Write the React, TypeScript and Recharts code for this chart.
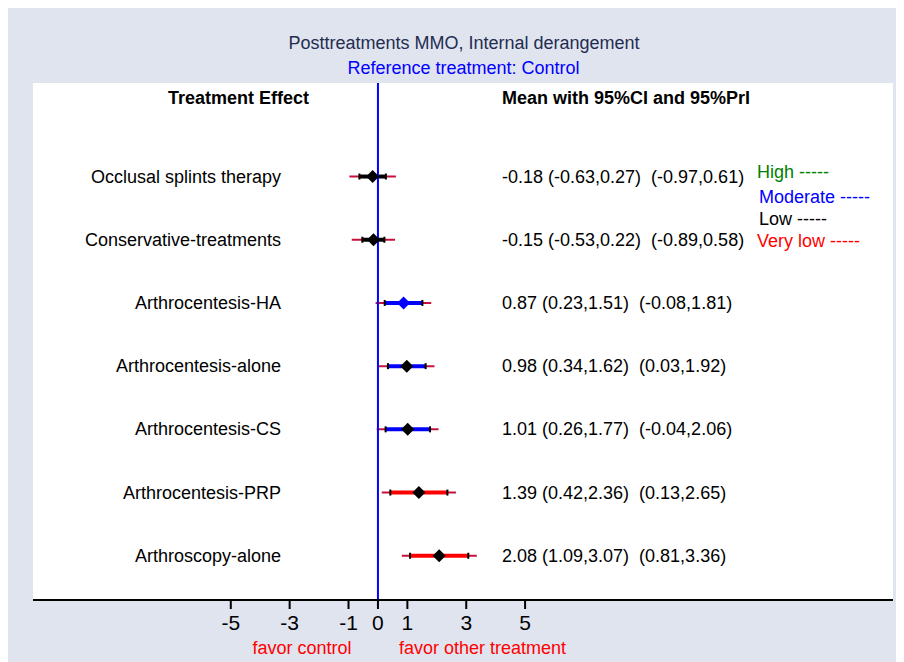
import React from 'react';
import { CartesianGrid, ErrorBar, ReferenceLine, Scatter, ScatterChart, XAxis, YAxis } from 'recharts';

const treatments = [
  'Occlusal splints therapy',
  'Conservative-treatments',
  'Arthrocentesis-HA',
  'Arthrocentesis-alone',
  'Arthrocentesis-CS',
  'Arthrocentesis-PRP',
  'Arthroscopy-alone',
];
const means = [-0.18, -0.15, 0.87, 0.98, 1.01, 1.39, 2.08];
const ciLow = [-0.63, -0.53, 0.23, 0.34, 0.26, 0.42, 1.09];
const ciHigh = [0.27, 0.22, 1.51, 1.62, 1.77, 2.36, 3.07];
const priLow = [-0.97, -0.89, -0.08, 0.03, -0.04, 0.13, 0.81];
const priHigh = [0.61, 0.58, 1.81, 1.92, 2.06, 2.65, 3.36];
const certainty = ['Low', 'Low', 'Moderate', 'Moderate', 'Moderate', 'Very low', 'Very low'];
const xTicks = [-5, -3, -1, 0, 1, 3, 5];
const legendItems = ['High', 'Moderate', 'Low', 'Very low'];

const W = 896;
const H = 654;
const FONT = '"Liberation Sans", Arial, Helvetica, sans-serif';
const FS = 18;
const BG = '#e0e4ef';
const PRI_COLOR = '#c8103c';
const CERTAINTY_COLOR: Record<string, string> = {
  High: '#008000',
  Moderate: '#0000ff',
  Low: '#000000',
  'Very low': '#ff0000',
};
// only the HA estimate gets a coloured diamond
const DIAMOND_COLOR = ['#000', '#000', '#0000ff', '#000', '#000', '#000', '#000'];
const NAME_X = 273;
const STATS_X = 494;
const LEGEND_Y = [164, 189, 211, 233];

const f = (v: number) => v.toFixed(2);

const rows = treatments.map((name, i) => ({
  name,
  x: means[i],
  y: i + 1,
  ci: [means[i] - ciLow[i], ciHigh[i] - means[i]],
  pri: [means[i] - priLow[i], priHigh[i] - means[i]],
  stats: `${f(means[i])} (${f(ciLow[i])},${f(ciHigh[i])})  (${f(priLow[i])},${f(priHigh[i])})`,
  ciColor: CERTAINTY_COLOR[certainty[i]],
  diamond: DIAMOND_COLOR[i],
}));

const caps = rows.flatMap((r, i) => [
  { x: ciLow[i], y: r.y },
  { x: ciHigh[i], y: r.y },
]);

const RowMark = (props: any) => {
  const { cx, cy, payload } = props;
  const s = 6.5;
  return (
    <g>
      <text x={NAME_X} y={cy} textAnchor="end" dominantBaseline="central" fontSize={FS} fontFamily={FONT} fill="#000">
        {payload.name}
      </text>
      <text
        x={STATS_X}
        y={cy}
        dominantBaseline="central"
        fontSize={FS}
        fontFamily={FONT}
        fill="#000"
        style={{ whiteSpace: 'pre' }}
      >
        {payload.stats}
      </text>
      <polygon points={`${cx},${cy - s} ${cx + s},${cy} ${cx},${cy + s} ${cx - s},${cy}`} fill={payload.diamond} />
    </g>
  );
};

const Cap = (props: any) => {
  const { cx, cy } = props;
  return <rect x={cx - 1} y={cy - 3} width={2} height={6} fill="#000" />;
};

const Label = ({
  x,
  y,
  children,
  color = '#000',
  bold = false,
  align = 'center',
}: {
  x: number;
  y: number;
  children: React.ReactNode;
  color?: string;
  bold?: boolean;
  align?: 'center' | 'left';
}) => (
  <div
    style={{
      position: 'absolute',
      left: x,
      top: y,
      transform: `translate(${align === 'center' ? '-50%' : '0'}, -50%)`,
      whiteSpace: 'pre',
      fontFamily: FONT,
      fontSize: FS,
      fontWeight: bold ? 'bold' : 'normal',
      color,
      lineHeight: 1,
    }}
  >
    {children}
  </div>
);

export default function App() {
  return (
    <div style={{ position: 'relative', width: W, height: H, background: BG }}>
      <ScatterChart width={W} height={H} margin={{ top: 75, right: 11, bottom: 22, left: 25 }}>
        <CartesianGrid horizontal={false} vertical={false} fill="#ffffff" stroke="none" />
        <XAxis
          type="number"
          dataKey="x"
          domain={[-11.72, 17.5]}
          allowDataOverflow
          ticks={xTicks}
          interval={0}
          height={40}
          axisLine={{ stroke: '#000', strokeWidth: 2 }}
          tickLine={{ stroke: '#000', strokeWidth: 2 }}
          tickSize={9}
          tickMargin={6}
          tick={{ fontSize: 21, fill: '#000', fontFamily: FONT }}
        />
        <YAxis type="number" dataKey="y" domain={[-0.48, 7.7]} reversed hide allowDataOverflow />
        {rows.map((r) => (
          <Scatter key={r.name} data={[r]} shape={RowMark} isAnimationActive={false}>
            <ErrorBar dataKey="pri" direction="x" width={0} stroke={PRI_COLOR} strokeWidth={2} isAnimationActive={false} />
            <ErrorBar dataKey="ci" direction="x" width={0} stroke={r.ciColor} strokeWidth={4} isAnimationActive={false} />
          </Scatter>
        ))}
        <Scatter data={caps} shape={Cap} isAnimationActive={false} />
        <ReferenceLine x={0} stroke="#0000ff" strokeWidth={2} />
      </ScatterChart>

      <Label x={456} y={35} color="#1f2d50">Posttreatments MMO, Internal derangement</Label>
      <Label x={455.5} y={60} color="#0000ff">Reference treatment: Control</Label>
      <Label x={230.5} y={90} bold>Treatment Effect</Label>
      <Label x={494} y={90} bold align="left">Mean with 95%CI and 95%PrI</Label>

      {legendItems.map((item, i) => (
        <Label key={item} x={i === 0 || i === 3 ? 749 : 751} y={LEGEND_Y[i]} color={CERTAINTY_COLOR[item]} align="left">
          {`${item} -----`}
        </Label>
      ))}

      <Label x={294} y={640} color="#ff0000">favor control</Label>
      <Label x={474.5} y={640} color="#ff0000">favor other treatment</Label>
    </div>
  );
}
